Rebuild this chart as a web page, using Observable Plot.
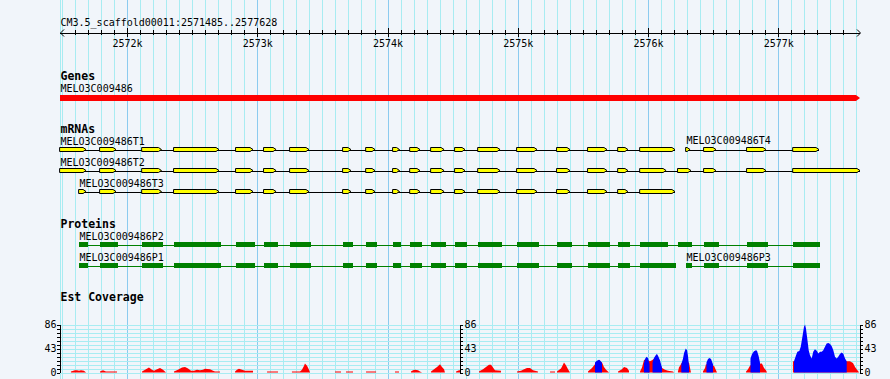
<!DOCTYPE html>
<html><head><meta charset="utf-8">
<script src="https://cdn.jsdelivr.net/npm/d3@7"></script>
<script src="https://cdn.jsdelivr.net/npm/@observablehq/plot@0.6"></script>
<style>
html,body{margin:0;padding:0;background:#f1f5fa;}
#chart{position:relative;width:890px;height:379px;background:#f1f5fa;overflow:hidden;}
#chart svg{position:absolute;left:0;top:0;}
</style></head><body><div id="chart"></div>
<script>
// ---------------- data ----------------
const regionName = "CM3.5_scaffold00011";
const regionStart = 2571485;
const regionEnd = 2577628;
const majorTicks = [2572000, 2573000, 2574000, 2575000, 2576000, 2577000];
const majorTickLabels = ["2572k", "2573k", "2574k", "2575k", "2576k", "2577k"];

const geneName = "MELO3C009486";
const geneSpan = [2571485, 2577628];

const mrnaNames = ["MELO3C009486T1", "MELO3C009486T2", "MELO3C009486T3", "MELO3C009486T4"];
const exonsT1 = [[2571485,2571685],[2571792,2571915],[2572115,2572264],[2572360,2572706],[2572836,2572967],[2573051,2573144],[2573251,2573397],[2573658,2573719],[2573835,2573904],[2574042,2574092],[2574173,2574249],[2574334,2574434],[2574518,2574595],[2574695,2574864],[2574994,2575148],[2575301,2575401],[2575539,2575685],[2575770,2575846],[2575939,2576207]];
const exonsT2 = [[2571485,2571685],[2571792,2571915],[2572115,2572264],[2572360,2572706],[2572836,2572967],[2573051,2573144],[2573251,2573397],[2573658,2573719],[2573835,2573904],[2574042,2574092],[2574173,2574249],[2574334,2574434],[2574518,2574595],[2574695,2574864],[2574994,2575148],[2575301,2575401],[2575539,2575685],[2575770,2575846],[2575939,2576139],[2576230,2576330],[2576430,2576522],[2576760,2576906],[2577114,2577628]];
const exonsT3 = [[2571631,2571685],[2571792,2571915],[2572115,2572264],[2572360,2572706],[2572836,2572967],[2573051,2573144],[2573251,2573397],[2573658,2573719],[2573835,2573904],[2574042,2574092],[2574173,2574249],[2574334,2574434],[2574518,2574595],[2574695,2574864],[2574994,2575148],[2575301,2575401],[2575539,2575685],[2575770,2575846],[2575939,2576207]];
const exonsT4 = [[2576292,2576323],[2576430,2576522],[2576760,2576906],[2577114,2577313]];

const proteinNames = ["MELO3C009486P2", "MELO3C009486P1", "MELO3C009486P3"];
const cdsP2 = [[2571631,2571700],[2571792,2571930],[2572115,2572276],[2572360,2572721],[2572836,2572982],[2573051,2573159],[2573251,2573412],[2573658,2573735],[2573835,2573919],[2574042,2574103],[2574173,2574265],[2574334,2574449],[2574518,2574610],[2574695,2574879],[2574994,2575163],[2575301,2575416],[2575539,2575708],[2575770,2575862],[2575939,2576154],[2576230,2576338],[2576430,2576545],[2576760,2576921],[2577114,2577321]];
const cdsP1 = [[2571631,2571700],[2571792,2571930],[2572115,2572276],[2572360,2572721],[2572836,2572982],[2573051,2573159],[2573251,2573412],[2573658,2573735],[2573835,2573919],[2574042,2574103],[2574173,2574265],[2574334,2574449],[2574518,2574610],[2574695,2574879],[2574994,2575163],[2575301,2575416],[2575539,2575708],[2575770,2575862],[2575939,2576215]];
const cdsP3 = [[2576292,2576338],[2576430,2576545],[2576760,2576921],[2577114,2577321]];

const trackTitles = ["Genes", "mRNAs", "Proteins", "Est Coverage"];

const covMax = 86;
const covTickLabels = [0, 43, 86];
const covMinorTickCount = 12;
// EST coverage [position, depth]
const estRed = [[2571569,0],[2571569,2],[2571600,4],[2571616,4],[2571631,3],[2571646,4],[2571669,3],[2571685,0],
[2571792,0],[2571792,2],[2571815,4],[2571838,2],[2571923,2],[2571923,0],
[2572115,0],[2572115,2],[2572145,6],[2572168,9],[2572191,5],[2572207,3],[2572230,6],[2572253,8],[2572276,5],[2572299,0],
[2572360,0],[2572360,2],[2572391,5],[2572422,9],[2572445,10],[2572468,7],[2572491,3],[2572514,3],[2572537,5],[2572560,4],[2572583,5],[2572598,6.5],[2572637,6],[2572660,3],[2572675,2],[2572714,2],[2572714,0],
[2572829,0],[2572829,2],[2572844,5],[2572859,6.5],[2572883,5],[2572906,3],[2572967,3],[2572967,0],
[2573075,0],[2573075,2],[2573159,2],[2573159,0],
[2573266,0],[2573266,2],[2573328,2],[2573343,5],[2573359,12],[2573366,16],[2573382,12],[2573397,5],[2573405,0],
[2573597,0],[2573597,2],[2573643,2],[2573643,0],
[2573681,0],[2573681,2],[2573735,2],[2573735,0],
[2573835,0],[2573835,2],[2573912,2],[2573912,0],
[2574057,0],[2574057,2],[2574088,2],[2574088,0],
[2574180,0],[2574180,2],[2574196,4],[2574211,5],[2574234,4],[2574249,2],[2574265,0],
[2574334,0],[2574334,2],[2574357,6],[2574380,10],[2574395,13],[2574403,15],[2574418,10],[2574434,6],[2574441,0],
[2574526,0],[2574526,2],[2574549,4],[2574557,4],[2574564,0],
[2574702,0],[2574702,2],[2574733,6],[2574756,10],[2574779,14],[2574795,14],[2574810,9],[2574825,4],[2574871,3],[2574871,0],
[2574994,0],[2574994,2],[2575025,3],[2575048,6],[2575071,8],[2575094,8],[2575117,4],[2575155,2],[2575155,0],
[2575248,0],[2575248,2],[2575286,2],[2575286,0],
[2575301,0],[2575301,2],[2575332,7],[2575347,14],[2575355,18],[2575370,13],[2575386,6],[2575401,0],
[2575539,0],[2575539,2],[2575570,8],[2575593,15],[2575608,20],[2575624,22],[2575647,18],[2575662,10],[2575678,5],[2575701,0],
[2575770,0],[2575770,2],[2575800,6],[2575816,10],[2575839,8],[2575854,3],[2575854,0],
[2575939,0],[2575939,2],[2575954,9],[2575969,22],[2575985,24],[2576000,22],[2576015,20],[2576031,22],[2576054,26],[2576077,24],[2576100,12],[2576108,8],[2576131,5],[2576154,3],[2576192,2],[2576200,0],
[2576230,0],[2576230,2],[2576238,9],[2576253,15],[2576261,18],[2576315,18],[2576323,8],[2576330,0],
[2576422,0],[2576422,2],[2576438,8],[2576445,15],[2576507,12],[2576522,4],[2576530,0],
[2576753,0],[2576753,2],[2576768,6],[2576783,12],[2576799,15],[2576875,16],[2576891,8],[2576906,4],[2576914,0],
[2577113,0],[2577113,20],[2577528,20],[2577551,20],[2577574,17],[2577590,10],[2577605,5],[2577616,2],[2577620,0]];
const estBlue = [[2575593,0],[2575593,18],[2575608,21],[2575624,23],[2575631,22],[2575647,17],[2575647,0],
[2575969,0],[2575969,16],[2575977,24],[2575989,28],[2576000,26],[2576012,15],[2576012,0],
[2576035,0],[2576035,18],[2576046,26],[2576062,32],[2576069,33],[2576077,30],[2576092,22],[2576108,8],[2576108,0],
[2576256,0],[2576256,15],[2576269,25],[2576277,35],[2576290,43],[2576300,40],[2576307,30],[2576315,12],[2576315,0],
[2576449,0],[2576449,18],[2576461,24],[2576472,26],[2576484,24],[2576499,15],[2576499,0],
[2576787,0],[2576787,25],[2576799,33],[2576814,38],[2576829,40],[2576837,39],[2576849,30],[2576860,18],[2576860,0],
[2577121,0],[2577121,20],[2577137,31],[2577147,37],[2577162,38.5],[2577173,46],[2577188,67],[2577198,82],[2577206,86],[2577213,79],[2577223,61],[2577234,40],[2577244,31],[2577257,25],[2577269,37],[2577282,41.5],[2577296,39],[2577308,34],[2577321,37],[2577334,37],[2577346,40],[2577359,46],[2577372,52],[2577385,53],[2577398,51],[2577411,47],[2577423,40],[2577436,28],[2577449,25],[2577461,28],[2577474,33],[2577487,36],[2577500,33.5],[2577513,25],[2577526,20],[2577526,0]];

// ---------------- layout / style ----------------
const W = 890, H = 379;
const X0 = 60, X1 = 860;
const bpPerPx = (regionEnd - regionStart) / (X1 - X0);
const MONO = "DejaVu Sans Mono, monospace";
const BG = "#f1f5fa", GRID = "#a8ecf2", GRIDMAJ = "#8ccbef";
const crisp = "crispEdges";

const minorGrid = d3.range(2571500, regionEnd, 100).filter(v => v % 1000 !== 0);
minorGrid.push(regionStart);

function arrowPolys(feats, yc, half, tipPx, key) {
  const tip = tipPx * bpPerPx, out = [];
  feats.forEach(([s, e], i) => {
    const k = key + "_" + i, m = Math.max(s, e - tip);
    out.push({k, x: s, y1: yc - half, y2: yc + half});
    out.push({k, x: m, y1: yc - half, y2: yc + half});
    out.push({k, x: e, y1: yc, y2: yc});
  });
  return out;
}

const rowsT = [
  {name: mrnaNames[0], ex: exonsT1, y: 149.5, ly: 144},
  {name: mrnaNames[1], ex: exonsT2, y: 170.5, ly: 165},
  {name: mrnaNames[2], ex: exonsT3, y: 191.5, ly: 186},
  {name: mrnaNames[3], ex: exonsT4, y: 149.5, ly: 143.5}
];
const rowsP = [
  {name: proteinNames[0], ex: cdsP2, y: 244.5, ly: 239},
  {name: proteinNames[1], ex: cdsP1, y: 265.5, ly: 260},
  {name: proteinNames[2], ex: cdsP3, y: 265.5, ly: 260}
];

const exonPts = rowsT.flatMap((r, i) => arrowPolys(r.ex, r.y, 2, 3, "t" + i));
const intronLines = rowsT.map(r => ({x1: r.ex[0][0], x2: r.ex[r.ex.length - 1][1], y: r.y}));
const pLines = rowsP.map(r => ({x1: r.ex[0][0], x2: r.ex[r.ex.length - 1][1], y: r.y}));
const pRects = rowsP.flatMap(r => r.ex.map(([s, e]) => ({s, e, y1: r.y - 2.5, y2: r.y + 2.5})));
const featLabels = [...rowsT, ...rowsP].map(r => ({x: r.ex[0][0], y: r.ly, text: r.name}));
featLabels.push({x: geneSpan[0], y: 91, text: geneName});
const titleLabels = [
  {text: trackTitles[0], y: 79.5},
  {text: trackTitles[1], y: 132},
  {text: trackTitles[2], y: 227},
  {text: trackTitles[3], y: 300.5}
];
const genePts = arrowPolys([geneSpan], 98, 3, 4, "g");

const rulerY = 32.5;
const arrowLen = 3.5 * bpPerPx;
const rulerArrows = [
  {x1: regionStart, y1: rulerY, x2: regionStart + arrowLen, y2: rulerY - 3.5},
  {x1: regionStart, y1: rulerY, x2: regionStart + arrowLen, y2: rulerY + 3.5},
  {x1: regionEnd, y1: rulerY, x2: regionEnd - arrowLen, y2: rulerY - 3.5},
  {x1: regionEnd, y1: rulerY, x2: regionEnd - arrowLen, y2: rulerY + 3.5}
];
const rulerMinor = d3.range(2571600, regionEnd - 50, 100).filter(v => v % 1000 !== 0);

const xScale = {domain: [regionStart, regionEnd], range: [X0, X1], axis: null};

const trackPlot = Plot.plot({
  width: W, height: H, marginLeft: 0, marginRight: 0, marginTop: 0, marginBottom: 0,
  style: {background: "transparent", overflow: "visible"},
  x: xScale,
  y: {domain: [0, H], range: [0, H], axis: null},
  marks: [
    Plot.ruleX(minorGrid, {x: d => d, y1: () => 0, y2: () => H, stroke: GRID, shapeRendering: crisp}),
    Plot.ruleX(majorTicks, {x: d => d, y1: () => 0, y2: () => H, stroke: GRIDMAJ, shapeRendering: crisp}),
    // ruler
    Plot.text([regionName + ":" + regionStart + ".." + regionEnd], {x: () => regionStart, y: () => 25, text: d => d, textAnchor: "start", lineAnchor: "bottom", fontFamily: MONO, fontSize: 10, fill: "black"}),
    Plot.ruleY([rulerY], {y: d => d, x1: () => regionStart, x2: () => regionEnd, stroke: "black", shapeRendering: crisp}),
    Plot.ruleX(rulerMinor, {x: d => d, y1: () => 30, y2: () => 35, stroke: "black", shapeRendering: crisp}),
    Plot.ruleX(majorTicks, {x: d => d, y1: () => 28, y2: () => 37, stroke: "black", shapeRendering: crisp}),
    Plot.link(rulerArrows, {x1: "x1", y1: "y1", x2: "x2", y2: "y2", stroke: "black", strokeWidth: 1}),
    Plot.text(majorTicks, {x: d => d, y: () => 46.5, text: (d, i) => majorTickLabels[i], textAnchor: "middle", lineAnchor: "bottom", fontFamily: MONO, fontSize: 10, fill: "black"}),
    // track titles
    Plot.text(titleLabels, {x: () => regionStart, y: "y", text: "text", textAnchor: "start", lineAnchor: "bottom", fontFamily: MONO, fontSize: 11.5, fontWeight: "bold", fill: "black"}),
    Plot.text(featLabels, {x: "x", y: "y", text: "text", textAnchor: "start", lineAnchor: "bottom", fontFamily: MONO, fontSize: 10, fill: "black"}),
    // gene
    Plot.area(genePts, {x1: "x", y1: "y1", y2: "y2", z: "k", fill: "#ff0000", curve: "linear"}),
    // mRNAs
    Plot.ruleY(intronLines, {y: "y", x1: "x1", x2: "x2", stroke: "black", shapeRendering: crisp}),
    Plot.area(exonPts, {x1: "x", y1: "y1", y2: "y2", z: "k", fill: "#ffff00", stroke: "black", strokeWidth: 1, curve: "linear"}),
    // proteins
    Plot.ruleY(pLines, {y: "y", x1: "x1", x2: "x2", stroke: "#008000", shapeRendering: crisp}),
    Plot.rect(pRects, {x1: "s", x2: "e", y1: "y1", y2: "y2", fill: "#008000", shapeRendering: crisp})
  ]
});

// coverage panel
const covTicks = d3.range(covMinorTickCount + 1).map(i => i * covMax / covMinorTickCount);
const tickLen = 3 * bpPerPx;
const midPos = (regionStart + regionEnd) / 2;
const axesDef = [
  {pos: regionStart, dir: -1, anchor: "end"},
  {pos: midPos, dir: 1, anchor: "start"},
  {pos: regionEnd, dir: 1, anchor: "start"}
];
const axisTicks = axesDef.flatMap(a => covTicks.map(v => ({x1: a.pos, x2: a.pos + a.dir * tickLen, y: v})));
const axisLabels = axesDef.flatMap(a => covTickLabels.map(v => ({x: a.pos + a.dir * 4 * bpPerPx, y: v, text: String(v), anchor: a.anchor})));

const covPlot = Plot.plot({
  width: W, height: H, marginLeft: 0, marginRight: 0, marginTop: 0, marginBottom: 0,
  style: {background: "transparent", overflow: "visible"},
  x: xScale,
  y: {domain: [0, covMax], range: [372.5, 324.5], axis: null},
  marks: [
    Plot.ruleY(covTicks, {y: d => d, x1: () => regionStart, x2: () => regionEnd, stroke: GRID, shapeRendering: crisp}),
    Plot.area(estRed, {x1: d => d[0], y1: () => 0, y2: d => d[1], fill: "#ff0000", curve: "linear"}),
    Plot.area(estBlue, {x1: d => d[0], y1: () => 0, y2: d => d[1], fill: "#0000ff", curve: "linear"}),
    Plot.ruleX(axesDef, {x: "pos", y1: () => 0, y2: () => covMax, stroke: "black", shapeRendering: crisp}),
    Plot.ruleY(axisTicks, {y: "y", x1: "x1", x2: "x2", stroke: "black", shapeRendering: crisp}),
    Plot.text(axisLabels.filter(d => d.anchor === "end"), {x: "x", y: "y", text: "text", textAnchor: "end", lineAnchor: "middle", fontFamily: MONO, fontSize: 10, fill: "black"}),
    Plot.text(axisLabels.filter(d => d.anchor === "start"), {x: "x", y: "y", text: "text", textAnchor: "start", lineAnchor: "middle", fontFamily: MONO, fontSize: 10, fill: "black"})
  ]
});

const chart = document.getElementById("chart");
chart.appendChild(trackPlot);
chart.appendChild(covPlot);
</script>
</body></html>
